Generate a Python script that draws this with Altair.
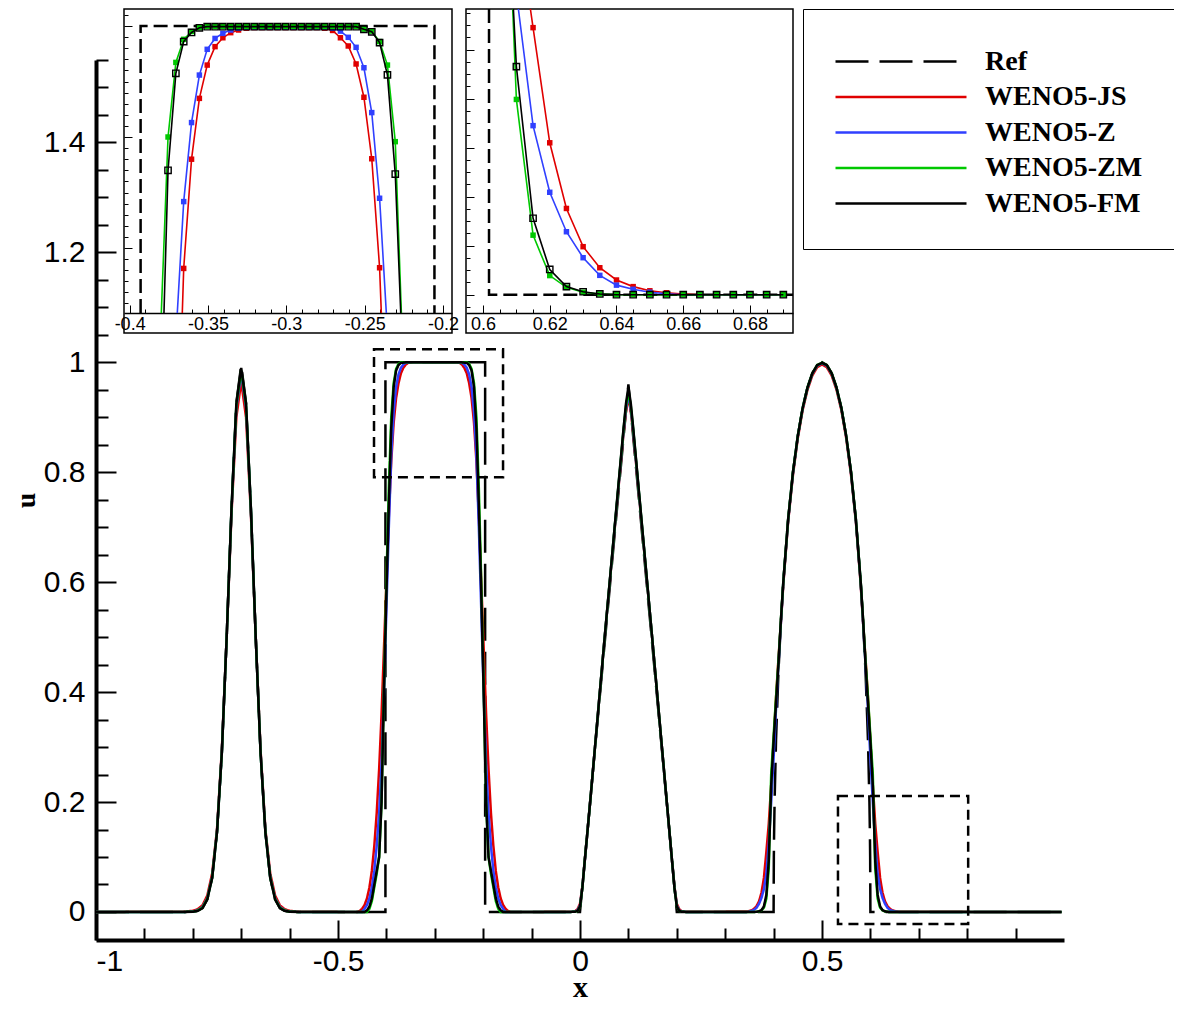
import altair as alt
import pandas as pd

SERIES = ["Ref", "WENO5-JS", "WENO5-Z", "WENO5-ZM", "WENO5-FM"]
COLORS = ["#000000", "#e00000", "#3040ff", "#00c800", "#000000"]
DASHES = [[33, 11], [1, 0], [1, 0], [1, 0], [1, 0]]

# ---------------- main panel data ----------------
GAUSS_X = [-0.82, -0.80, -0.79, -0.78, -0.77, -0.76, -0.75, -0.74, -0.73, -0.72, -0.71, -0.70,
           -0.69, -0.68, -0.67, -0.66, -0.65, -0.64, -0.63, -0.62, -0.61, -0.60, -0.58]
GAUSS_REF = [0, 0.0005, 0.002, 0.007, 0.023, 0.062, 0.145, 0.29, 0.5, 0.735, 0.926, 0.995,
             0.926, 0.735, 0.5, 0.29, 0.145, 0.062, 0.023, 0.007, 0.002, 0.0005, 0]
GAUSS_FM = [0, 0.0005, 0.002, 0.007, 0.023, 0.062, 0.145, 0.29, 0.5, 0.735, 0.925, 0.99,
            0.925, 0.735, 0.5, 0.29, 0.145, 0.062, 0.023, 0.007, 0.002, 0.0005, 0]
GAUSS_ZM = [0, 0.0006, 0.0025, 0.008, 0.024, 0.063, 0.146, 0.29, 0.5, 0.733, 0.922, 0.985,
            0.922, 0.733, 0.5, 0.29, 0.146, 0.063, 0.024, 0.008, 0.0025, 0.0006, 0]
GAUSS_Z = [0, 0.0008, 0.003, 0.009, 0.025, 0.064, 0.147, 0.291, 0.5, 0.731, 0.918, 0.98,
           0.918, 0.731, 0.5, 0.291, 0.147, 0.064, 0.025, 0.009, 0.003, 0.0008, 0]
GAUSS_JS = [0.0005, 0.002, 0.005, 0.012, 0.03, 0.07, 0.15, 0.295, 0.5, 0.725, 0.9, 0.965,
            0.9, 0.725, 0.5, 0.295, 0.15, 0.07, 0.03, 0.012, 0.005, 0.002, 0.0005]

SQ_REF_X = [-0.402, -0.402, -0.196, -0.196]
SQ_REF_Y = [0, 1, 1, 0]
SQ_FM_X = [-0.445, -0.44, -0.435, -0.43, -0.425, -0.42, -0.415, -0.41, -0.405, -0.40, -0.395, -0.39,
           -0.385, -0.38, -0.375, -0.37, -0.36,
           -0.244, -0.234, -0.229, -0.224, -0.219, -0.214, -0.209, -0.204, -0.199, -0.194, -0.189,
           -0.184, -0.179, -0.174, -0.169, -0.164, -0.159]
SQ_FM_Y = [0, 0.003, 0.01, 0.025, 0.05, 0.075, 0.1, 0.2, 0.4, 0.58, 0.74, 0.88, 0.955, 0.985, 0.995, 0.999, 1.0,
           1.0, 0.999, 0.995, 0.985, 0.955, 0.88, 0.74, 0.58, 0.4, 0.2, 0.1, 0.075, 0.05, 0.025, 0.01, 0.003, 0]
SQ_ZM_X = [-0.44, -0.435, -0.43, -0.425, -0.42, -0.415, -0.41, -0.405, -0.40, -0.395, -0.39, -0.385,
           -0.38, -0.375, -0.37,
           -0.234, -0.229, -0.224, -0.219, -0.214, -0.209, -0.204, -0.199, -0.194, -0.189, -0.184,
           -0.179, -0.174, -0.169, -0.164]
SQ_ZM_Y = [0, 0.006, 0.02, 0.045, 0.07, 0.1, 0.2, 0.41, 0.6, 0.77, 0.9, 0.962, 0.988, 0.997, 1.0,
           1.0, 0.997, 0.988, 0.962, 0.9, 0.77, 0.6, 0.41, 0.2, 0.1, 0.07, 0.045, 0.02, 0.006, 0]
SQ_Z_X = [-0.45, -0.445, -0.44, -0.435, -0.43, -0.425, -0.42, -0.415, -0.41, -0.405, -0.40, -0.395,
          -0.39, -0.385, -0.38, -0.375, -0.37, -0.365, -0.36, -0.35,
          -0.254, -0.244, -0.239, -0.234, -0.229, -0.224, -0.219, -0.214, -0.209, -0.204, -0.199,
          -0.194, -0.189, -0.184, -0.179, -0.174, -0.169, -0.164, -0.159, -0.154]
SQ_Z_Y = [0, 0.006, 0.013, 0.025, 0.045, 0.075, 0.12, 0.18, 0.27, 0.4, 0.55, 0.7, 0.83, 0.91, 0.955,
          0.978, 0.99, 0.996, 0.999, 1.0,
          1.0, 0.999, 0.996, 0.99, 0.978, 0.955, 0.91, 0.83, 0.7, 0.55, 0.4, 0.27, 0.18, 0.12, 0.075,
          0.045, 0.025, 0.013, 0.006, 0]
SQ_JS_X = [-0.46, -0.455, -0.45, -0.445, -0.44, -0.435, -0.43, -0.425, -0.42, -0.415, -0.41, -0.405,
           -0.40, -0.395, -0.39, -0.385, -0.38, -0.375, -0.37, -0.365, -0.36, -0.355, -0.345,
           -0.259, -0.249, -0.244, -0.239, -0.234, -0.229, -0.224, -0.219, -0.214, -0.209, -0.204,
           -0.199, -0.194, -0.189, -0.184, -0.179, -0.174, -0.169, -0.164, -0.159, -0.154, -0.149, -0.144]
SQ_JS_Y = [0, 0.002, 0.006, 0.013, 0.025, 0.045, 0.075, 0.12, 0.18, 0.26, 0.36, 0.48, 0.6, 0.72, 0.82,
           0.89, 0.935, 0.962, 0.98, 0.99, 0.996, 0.999, 1.0,
           1.0, 0.999, 0.996, 0.99, 0.98, 0.962, 0.935, 0.89, 0.82, 0.72, 0.6, 0.48, 0.36, 0.26, 0.18,
           0.12, 0.075, 0.045, 0.025, 0.013, 0.006, 0.002, 0]

TRI_REF_X = [0.0, 0.1, 0.2]
TRI_REF_Y = [0, 0.96, 0]
TRI_X = [-0.02, -0.01, -0.005, 0.0, 0.005, 0.01, 0.02, 0.05, 0.09, 0.095, 0.10, 0.105, 0.11, 0.15,
         0.19, 0.195, 0.20, 0.205, 0.21, 0.22]
TRI_FM = [0, 0.0005, 0.002, 0.01, 0.045, 0.095, 0.19, 0.49, 0.88, 0.925, 0.955, 0.925, 0.88, 0.49,
          0.095, 0.045, 0.01, 0.002, 0.0005, 0]
TRI_ZM = [0, 0.0005, 0.002, 0.01, 0.045, 0.095, 0.19, 0.49, 0.878, 0.92, 0.948, 0.92, 0.878, 0.49,
          0.095, 0.045, 0.01, 0.002, 0.0005, 0]
TRI_Z = [0, 0.001, 0.003, 0.012, 0.046, 0.094, 0.19, 0.49, 0.875, 0.915, 0.942, 0.915, 0.875, 0.49,
         0.094, 0.046, 0.012, 0.003, 0.001, 0]
TRI_JS = [0.0003, 0.0015, 0.005, 0.015, 0.047, 0.094, 0.19, 0.49, 0.872, 0.91, 0.937, 0.91, 0.872, 0.49,
          0.094, 0.047, 0.015, 0.005, 0.0015, 0.0003]

ELL_REF_X = [0.4, 0.4005, 0.401, 0.402, 0.405, 0.41, 0.415, 0.42, 0.43, 0.44, 0.45, 0.46, 0.47, 0.48,
             0.49, 0.50, 0.51, 0.52, 0.53, 0.54, 0.55, 0.56, 0.57, 0.58, 0.585, 0.59, 0.595, 0.598,
             0.599, 0.5995, 0.6]
ELL_REF_Y = [0, 0.1, 0.141, 0.199, 0.312, 0.436, 0.527, 0.6, 0.714, 0.8, 0.866, 0.917, 0.954, 0.98,
             0.995, 1.0, 0.995, 0.98, 0.954, 0.917, 0.866, 0.8, 0.714, 0.6, 0.527, 0.436, 0.312, 0.199,
             0.141, 0.1, 0]
ELL_X = [0.345, 0.35, 0.355, 0.36, 0.365, 0.37, 0.375, 0.38, 0.385, 0.39, 0.395, 0.40, 0.405, 0.41,
         0.415, 0.42, 0.43, 0.44, 0.45, 0.46, 0.47, 0.48, 0.49, 0.50, 0.51, 0.52, 0.53, 0.54, 0.55,
         0.56, 0.57, 0.58, 0.585, 0.59, 0.595, 0.60, 0.605, 0.61, 0.615, 0.62, 0.625, 0.63, 0.635,
         0.64, 0.645, 0.65, 0.655, 0.66]
ELL_FM = [0, 0, 0, 0, 0.0003, 0.0012, 0.0033, 0.0103, 0.031, 0.093, 0.23, 0.31, 0.38, 0.45, 0.53, 0.6,
          0.714, 0.8, 0.866, 0.917, 0.954, 0.98, 0.995, 0.999, 0.995, 0.98, 0.954, 0.917, 0.866, 0.8, 0.714, 0.6,
          0.53, 0.45, 0.38, 0.31, 0.23, 0.093, 0.031, 0.0103, 0.0033, 0.0012, 0.0003, 0, 0, 0, 0, 0]
ELL_ZM = [0, 0, 0, 0, 0.0003, 0.001, 0.003, 0.0078, 0.0244, 0.0797, 0.25, 0.32, 0.39, 0.455, 0.53, 0.6,
          0.714, 0.8, 0.866, 0.917, 0.954, 0.98, 0.995, 0.999, 0.995, 0.98, 0.954, 0.917, 0.866, 0.8, 0.714, 0.6,
          0.53, 0.455, 0.39, 0.32, 0.25, 0.0797, 0.0244, 0.0078, 0.003, 0.001, 0.0003, 0, 0, 0, 0, 0]
ELL_Z = [0, 0.001, 0.0022, 0.004, 0.0079, 0.0151, 0.0257, 0.0418, 0.069, 0.124, 0.2, 0.28, 0.37, 0.45, 0.525, 0.598,
         0.712, 0.798, 0.865, 0.916, 0.953, 0.979, 0.994, 0.998, 0.994, 0.979, 0.953, 0.916, 0.865, 0.798, 0.712, 0.598,
         0.525, 0.45, 0.37, 0.28, 0.2, 0.124, 0.069, 0.0418, 0.0257, 0.0151, 0.0079, 0.004, 0.0022, 0.001, 0.0004, 0]
ELL_JS = [0.0008, 0.0016, 0.0033, 0.006, 0.011, 0.0196, 0.035, 0.062, 0.109, 0.16, 0.23, 0.31, 0.39, 0.46, 0.525, 0.595,
          0.71, 0.795, 0.862, 0.913, 0.95, 0.976, 0.991, 0.996, 0.991, 0.976, 0.95, 0.913, 0.862, 0.795, 0.71, 0.595,
          0.525, 0.46, 0.39, 0.31, 0.23, 0.16, 0.109, 0.062, 0.035, 0.0196, 0.011, 0.006, 0.0033, 0.0016, 0.0008, 0.0003]

X_START, X_END = [-1.0], [0.995]
Y_EDGE = [0.0]

# dashed zoom boxes in the main panel
BOX_X0 = [-0.4256, 0.533]
BOX_X1 = [-0.159, 0.802]
BOX_Y0 = [0.791, -0.022]
BOX_Y1 = [1.0236, 0.211]

# ---------------- inset 1 (top of the square wave) ----------------
INSET1_GRID = [-0.3755, -0.3705, -0.3655, -0.3605, -0.3555, -0.3505, -0.3455, -0.3405, -0.3355, -0.3305,
               -0.3255, -0.3205, -0.3155, -0.3105, -0.3055, -0.3005, -0.2955, -0.2905, -0.2855, -0.2805,
               -0.2755, -0.2705, -0.2655, -0.2605, -0.2555, -0.2505, -0.2455, -0.2405, -0.2355, -0.2305]
INSET1_FM = [0.935, 0.9787, 0.993, 0.9971, 0.9992] + [0.9997] * 20 + [0.9985, 0.9974, 0.9925, 0.978, 0.9333]
INSET1_ZM = [0.950, 0.9836, 0.994, 0.9975, 0.9993] + [0.9998] * 20 + [0.9986, 0.9977, 0.993, 0.9824, 0.9479]
INSET1_Z = [None, None, 0.9209, 0.9565, 0.9779, 0.9895, 0.9944, 0.9967, 0.9982, 0.999] + [0.9994] * 11 + \
           [0.999, 0.9977, 0.9949, 0.9904, 0.9812, 0.961, 0.9224, None, None]
INSET1_JS = [None, None, 0.8908, 0.94, 0.9674, 0.9824, 0.9907, 0.9947, 0.997, 0.9982, 0.999] + [0.9993] * 9 + \
            [0.999, 0.998, 0.9947, 0.991, 0.9829, 0.9679, 0.9402, 0.8911, None, None]
INSET1_EDGES = {"WENO5-JS": [-0.3664, -0.2394], "WENO5-Z": [-0.3696, -0.2362],
                "WENO5-ZM": [-0.3798, -0.2266], "WENO5-FM": [-0.3781, -0.2270]}
INSET1_REF_X = [-0.393, -0.393, -0.2055, -0.2055]
INSET1_REF_Y = [0.87072, 1.0, 1.0, 0.87072]
INSET1_DOMAIN_X = [-0.4036, -0.1943]
INSET1_DOMAIN_Y = [0.87072, 1.00766]
INSET1_FRAME_Y = [0.86171, 1.00766]

# ---------------- inset 2 (foot of the semi-ellipse) ----------------
INSET2_GRID = [0.61, 0.615, 0.62, 0.625, 0.63, 0.635, 0.64, 0.645, 0.65, 0.655, 0.66, 0.665, 0.67,
               0.675, 0.68, 0.685, 0.69]
INSET2_FM = [0.0931, 0.0312, 0.0103, 0.0033, 0.0012, 0.0003] + [0] * 11
INSET2_ZM = [0.0797, 0.0243, 0.0078, 0.003, 0.001, 0.0003] + [0] * 11
INSET2_Z = [None, 0.069, 0.0418, 0.0257, 0.0151, 0.0079, 0.0039, 0.0022, 0.001, 0.0004] + [0] * 7
INSET2_JS = [None, 0.109, 0.062, 0.0352, 0.0196, 0.011, 0.006, 0.0033, 0.0016, 0.0008, 0.0003] + [0] * 6
INSET2_EDGES = {"WENO5-JS": [0.6142], "WENO5-Z": [0.6106], "WENO5-ZM": [0.6089], "WENO5-FM": [0.6091]}
INSET2_REF_X = [0.6018, 0.6018, 0.6929]
INSET2_REF_Y = [0.11661, 0, 0]
INSET2_DOMAIN_X = [0.5949, 0.6929]
INSET2_DOMAIN_Y = [-0.00747, 0.11661]
INSET2_FRAME_Y = [-0.01563, 0.11661]

# tick values
MAIN_X_MAJOR = [-1, -0.5, 0, 0.5]
MAIN_X_MINOR = [-0.9, -0.8, -0.7, -0.6, -0.4, -0.3, -0.2, -0.1, 0.1, 0.2, 0.3, 0.4, 0.6, 0.7, 0.8, 0.9]
MAIN_Y_MAJOR = [0, 0.2, 0.4, 0.6, 0.8, 1, 1.2, 1.4]
MAIN_Y_MINOR = [0.05, 0.1, 0.15, 0.25, 0.3, 0.35, 0.45, 0.5, 0.55, 0.65, 0.7, 0.75, 0.85, 0.9, 0.95,
                1.05, 1.1, 1.15, 1.25, 1.3, 1.35, 1.45, 1.5, 1.55]
INSET1_X_MAJOR = [-0.4, -0.35, -0.3, -0.25, -0.2]
INSET1_X_MINOR = [-0.39, -0.38, -0.37, -0.36, -0.34, -0.33, -0.32, -0.31, -0.29, -0.28, -0.27, -0.26,
                  -0.24, -0.23, -0.22, -0.21]
INSET1_Y_MAJOR = [0.9, 0.95, 1.0]
INSET1_Y_MINOR = [0.875, 0.88, 0.885, 0.89, 0.895, 0.905, 0.91, 0.915, 0.92, 0.925, 0.93, 0.935, 0.94,
                  0.945, 0.955, 0.96, 0.965, 0.97, 0.975, 0.98, 0.985, 0.99, 0.995, 1.005]
INSET2_X_MAJOR = [0.6, 0.62, 0.64, 0.66, 0.68]
INSET2_X_MINOR = [0.605, 0.61, 0.615, 0.625, 0.63, 0.635, 0.645, 0.65, 0.655, 0.665, 0.67, 0.675,
                  0.685, 0.69]
INSET2_Y_MAJOR = [0, 0.02, 0.04, 0.06, 0.08, 0.1]
INSET2_Y_MINOR = [-0.005, 0.005, 0.01, 0.015, 0.025, 0.03, 0.035, 0.045, 0.05, 0.055, 0.065, 0.07,
                  0.075, 0.085, 0.09, 0.095, 0.105, 0.11, 0.115]

# ---------------- geometry ----------------
W, H = 1070, 930
PAD = {"left": 88, "top": 2, "right": 8, "bottom": 62}
MAIN_X = alt.Scale(domain=[-1, 1], range=[0, 968], nice=False, zero=False)
MAIN_Y = alt.Scale(domain=[-0.051, 1.55], range=[930, 50], nice=False, zero=False)
IN1_X = alt.Scale(domain=INSET1_DOMAIN_X, range=[28, 356], nice=False, zero=False)
IN1_Y = alt.Scale(domain=INSET1_DOMAIN_Y, range=[303, -1], nice=False, zero=False)
IN2_X = alt.Scale(domain=INSET2_DOMAIN_X, range=[370, 697], nice=False, zero=False)
IN2_Y = alt.Scale(domain=INSET2_DOMAIN_Y, range=[303, -1], nice=False, zero=False)
INSET_AXIS_Y = 303

SANS = "Liberation Sans"
SERIF = "Liberation Serif"
LABEL_EXPR = "replace(format(datum.value, '~g'), '\u2212', '-')"

LEG = alt.Legend(orient="none", legendX=707, legendY=-1, title=" ", titleFontSize=6, titlePadding=2,
                 symbolType="stroke", symbolSize=17161, symbolStrokeWidth=2.5, clipHeight=27,
                 rowPadding=6.5, labelFont=SERIF, labelFontWeight="bold", labelFontSize=28,
                 labelColor="black", labelOffset=17, labelLimit=400, padding=31,
                 strokeColor="black", fillColor="white")
COLOR = alt.Color("series:N", scale=alt.Scale(domain=SERIES, range=COLORS), legend=LEG)
DASH = alt.StrokeDash("series:N", scale=alt.Scale(domain=SERIES, range=DASHES), legend=LEG)

# ---------------- build tables ----------------
MAIN_PIECES = {
    "Ref": [(X_START, Y_EDGE), (GAUSS_X, GAUSS_REF), (SQ_REF_X, SQ_REF_Y), (TRI_REF_X, TRI_REF_Y),
            (ELL_REF_X, ELL_REF_Y), (X_END, Y_EDGE)],
    "WENO5-JS": [(X_START, Y_EDGE), (GAUSS_X, GAUSS_JS), (SQ_JS_X, SQ_JS_Y), (TRI_X, TRI_JS),
                 (ELL_X, ELL_JS), (X_END, Y_EDGE)],
    "WENO5-Z": [(X_START, Y_EDGE), (GAUSS_X, GAUSS_Z), (SQ_Z_X, SQ_Z_Y), (TRI_X, TRI_Z),
                (ELL_X, ELL_Z), (X_END, Y_EDGE)],
    "WENO5-ZM": [(X_START, Y_EDGE), (GAUSS_X, GAUSS_ZM), (SQ_ZM_X, SQ_ZM_Y), (TRI_X, TRI_ZM),
                 (ELL_X, ELL_ZM), (X_END, Y_EDGE)],
    "WENO5-FM": [(X_START, Y_EDGE), (GAUSS_X, GAUSS_FM), (SQ_FM_X, SQ_FM_Y), (TRI_X, TRI_FM),
                 (ELL_X, ELL_FM), (X_END, Y_EDGE)],
}
rows = []
for s, pieces in MAIN_PIECES.items():
    for xs, ys in pieces:
        for xv, yv in zip(xs, ys):
            rows.append({"series": s, "x": xv, "y": yv, "i": len(rows)})
main_df = pd.DataFrame(rows)


def inset_tables(grid, vals, edges, edge_y):
    lrows, prows = [], []
    for s, v in vals.items():
        e = edges[s]
        lrows.append({"series": s, "x": e[0], "y": edge_y, "i": len(lrows)})
        for g, yv in zip(grid, v):
            if yv is not None:
                lrows.append({"series": s, "x": g, "y": yv, "i": len(lrows)})
                prows.append({"series": s, "x": g, "y": yv})
        if len(e) > 1:
            lrows.append({"series": s, "x": e[1], "y": edge_y, "i": len(lrows)})
    return pd.DataFrame(lrows), pd.DataFrame(prows)


in1_lines, in1_pts = inset_tables(INSET1_GRID, {"WENO5-JS": INSET1_JS, "WENO5-Z": INSET1_Z,
                                                "WENO5-ZM": INSET1_ZM, "WENO5-FM": INSET1_FM},
                                  INSET1_EDGES, INSET1_DOMAIN_Y[0])
in2_lines, in2_pts = inset_tables(INSET2_GRID, {"WENO5-JS": INSET2_JS, "WENO5-Z": INSET2_Z,
                                                "WENO5-ZM": INSET2_ZM, "WENO5-FM": INSET2_FM},
                                  INSET2_EDGES, INSET2_DOMAIN_Y[1])
in1_ref = pd.DataFrame({"x": INSET1_REF_X, "y": INSET1_REF_Y, "i": list(range(len(INSET1_REF_X)))})
in2_ref = pd.DataFrame({"x": INSET2_REF_X, "y": INSET2_REF_Y, "i": list(range(len(INSET2_REF_X)))})
boxes = pd.DataFrame({"x0": BOX_X0, "x1": BOX_X1, "y0": BOX_Y0, "y1": BOX_Y1})
frames1 = pd.DataFrame({"x0": [INSET1_DOMAIN_X[0]], "x1": [INSET1_DOMAIN_X[1]],
                        "y0": [INSET1_FRAME_Y[0]], "y1": [INSET1_FRAME_Y[1]]})
frames2 = pd.DataFrame({"x0": [INSET2_DOMAIN_X[0]], "x1": [INSET2_DOMAIN_X[1]],
                        "y0": [INSET2_FRAME_Y[0]], "y1": [INSET2_FRAME_Y[1]]})
anchor = main_df.head(1)


def tick_axis(orient, offset, values, size, width):
    return alt.Axis(orient=orient, offset=offset, values=values, labels=False, domain=False,
                    ticks=True, tickSize=size, tickWidth=width, tickColor="black", grid=False,
                    title=None)


def axis_layer(xs, ys, xaxis, yaxis):
    return alt.Chart(anchor).mark_point(opacity=0).encode(
        x=alt.X("x:Q", scale=xs, axis=xaxis), y=alt.Y("y:Q", scale=ys, axis=yaxis))


layers = []

# main axes
layers.append(axis_layer(
    MAIN_X, MAIN_Y,
    alt.Axis(orient="bottom", values=MAIN_X_MAJOR, labelExpr=LABEL_EXPR, ticks=False, tickSize=0,
             domain=True, domainWidth=4, domainColor="black", labelFont=SANS, labelFontSize=30,
             labelColor="black", labelPadding=6, grid=False, title="x", titleFont=SERIF,
             titleFontWeight="bold", titleFontSize=30, titleColor="black", titleY=56,
             titleBaseline="alphabetic"),
    alt.Axis(orient="left", values=MAIN_Y_MAJOR, labelExpr=LABEL_EXPR, ticks=False, tickSize=0,
             domain=True, domainWidth=4, domainColor="black", labelFont=SANS, labelFontSize=30,
             labelColor="black", labelPadding=11, grid=False, title="u", titleFont=SERIF,
             titleFontWeight="bold", titleFontSize=28, titleColor="black", titleX=-62,
             titleBaseline="alphabetic")))
layers.append(axis_layer(MAIN_X, MAIN_Y, tick_axis("top", -H, MAIN_X_MAJOR, 20, 2),
                         tick_axis("right", -W, MAIN_Y_MAJOR, 20, 2)))
layers.append(axis_layer(MAIN_X, MAIN_Y, tick_axis("top", -H, MAIN_X_MINOR, 12, 2),
                         tick_axis("right", -W, MAIN_Y_MINOR, 12, 2)))

# main curves
for s in SERIES:
    layers.append(alt.Chart(main_df).transform_filter(alt.datum.series == s).mark_line(
        strokeWidth=2.5).encode(
        x=alt.X("x:Q", scale=MAIN_X, axis=None), y=alt.Y("y:Q", scale=MAIN_Y, axis=None),
        color=COLOR, strokeDash=DASH, order="i:Q"))

# dashed zoom boxes
layers.append(alt.Chart(boxes).mark_rect(fillOpacity=0, stroke="black", strokeWidth=2.5,
                                         strokeDash=[10, 6]).encode(
    x=alt.X("x0:Q", scale=MAIN_X, axis=None), x2="x1:Q",
    y=alt.Y("y0:Q", scale=MAIN_Y, axis=None), y2="y1:Q"))


def inset_layers(xs, ys, frame, ref, lines, pts, xmaj, xmin, ymaj, ymin, yaxis_x, flush):
    out = []
    out.append(alt.Chart(frame).mark_rect(fillOpacity=0, stroke="black", strokeWidth=1.5).encode(
        x=alt.X("x0:Q", scale=xs, axis=None), x2="x1:Q",
        y=alt.Y("y0:Q", scale=ys, axis=None), y2="y1:Q"))
    out.append(axis_layer(
        xs, ys,
        alt.Axis(orient="bottom", offset=INSET_AXIS_Y - H, values=xmaj, labelExpr=LABEL_EXPR,
                 ticks=False, tickSize=0, domain=True, domainWidth=1.5, domainColor="black",
                 labelFont=SANS, labelFontSize=18, labelColor="black", labelPadding=2,
                 labelFlush=flush, grid=False, title=None),
        tick_axis("right", yaxis_x - W, ymaj, 8, 1)))
    out.append(axis_layer(xs, ys, tick_axis("top", -INSET_AXIS_Y, xmaj, 8, 1),
                          tick_axis("right", yaxis_x - W, ymin, 4, 1)))
    out.append(axis_layer(xs, ys, tick_axis("top", -INSET_AXIS_Y, xmin, 4, 1), None))
    out.append(alt.Chart(ref).mark_line(color="black", strokeWidth=2.5, strokeDash=[14, 6]).encode(
        x=alt.X("x:Q", scale=xs, axis=None), y=alt.Y("y:Q", scale=ys, axis=None), order="i:Q"))
    for s in SERIES[1:]:
        out.append(alt.Chart(lines).transform_filter(alt.datum.series == s).mark_line(
            strokeWidth=1.6).encode(
            x=alt.X("x:Q", scale=xs, axis=None), y=alt.Y("y:Q", scale=ys, axis=None),
            color=COLOR, order="i:Q"))
        if s == "WENO5-FM":
            pm = alt.Chart(pts).transform_filter(alt.datum.series == s).mark_point(
                shape="square", filled=False, size=40, strokeWidth=1.4, opacity=1)
        else:
            pm = alt.Chart(pts).transform_filter(alt.datum.series == s).mark_point(
                shape="square", filled=True, size=30, opacity=1)
        out.append(pm.encode(x=alt.X("x:Q", scale=xs, axis=None),
                             y=alt.Y("y:Q", scale=ys, axis=None), color=COLOR))
    return out


layers += inset_layers(IN1_X, IN1_Y, frames1, in1_ref, in1_lines, in1_pts, INSET1_X_MAJOR,
                       INSET1_X_MINOR, INSET1_Y_MAJOR, INSET1_Y_MINOR, 28, True)
layers += inset_layers(IN2_X, IN2_Y, frames2, in2_ref, in2_lines, in2_pts, INSET2_X_MAJOR,
                       INSET2_X_MINOR, INSET2_Y_MAJOR, INSET2_Y_MINOR, 370, False)

chart = alt.layer(*layers).resolve_scale(x="independent", y="independent").properties(
    width=W, height=H, autosize=alt.AutoSizeParams(type="none"), padding=PAD
).configure_view(stroke=None).configure_axis(grid=False)

chart.save("out.html", embed_options={"renderer": "svg", "actions": False})
